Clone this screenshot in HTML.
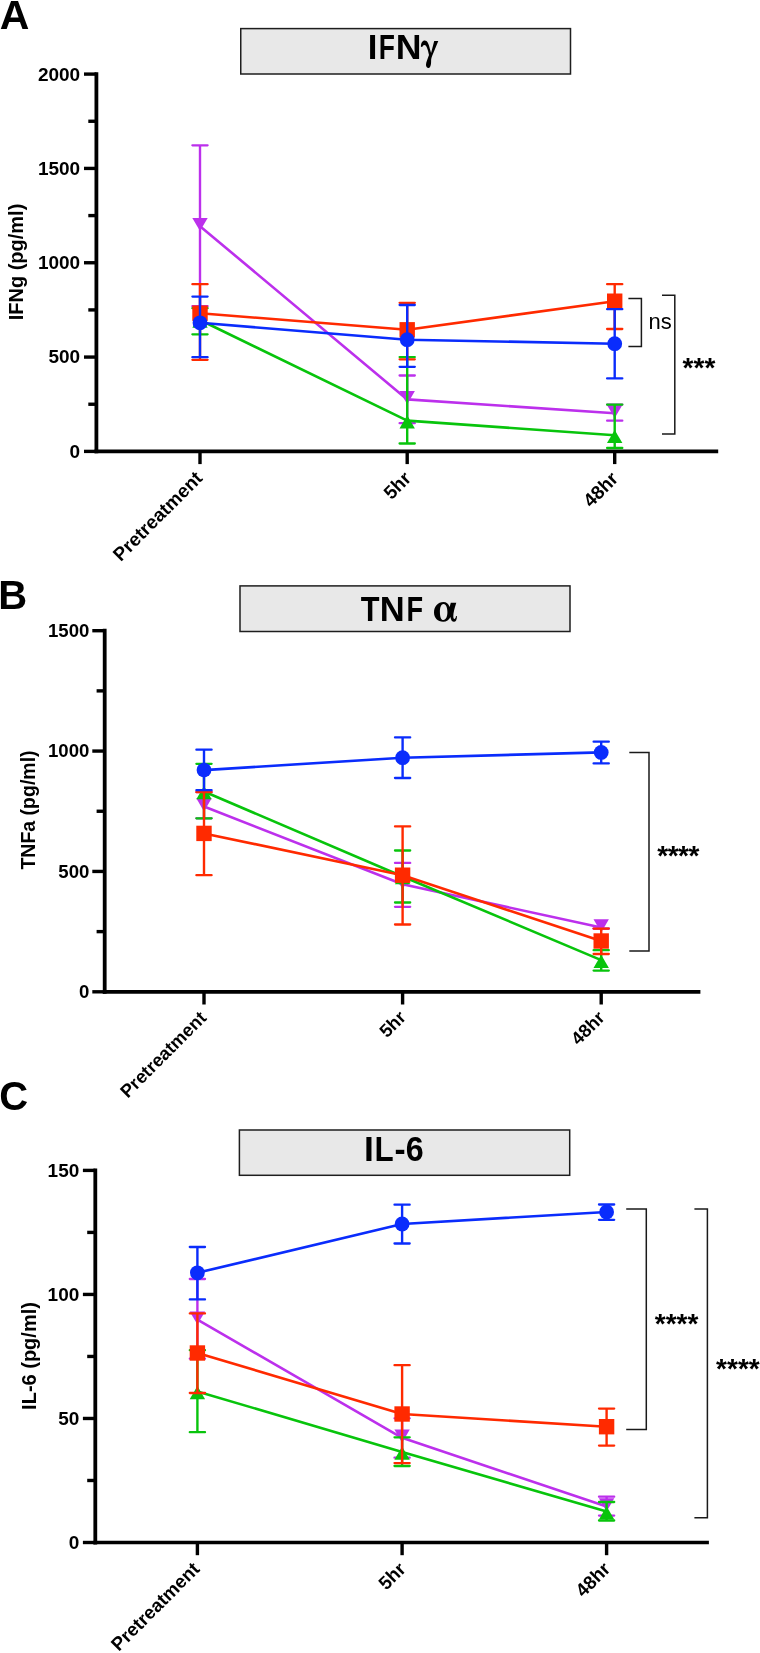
<!DOCTYPE html>
<html><head><meta charset="utf-8"><title>Cytokines</title>
<style>
html,body{margin:0;padding:0;background:#fff;}
body{width:760px;height:1653px;overflow:hidden;}
svg{display:block;will-change:transform;}
text{font-family:"Liberation Sans",sans-serif;fill:#000;}
.pl{font-size:40px;font-weight:bold;}
.tl{font-size:19px;font-weight:bold;}
.xl{font-size:18px;font-weight:bold;}
.yl{font-size:20px;font-weight:bold;}
.tt{font-size:33px;font-weight:bold;}
.st{font-size:28px;font-weight:bold;}
.ns{font-size:22px;}
</style></head><body>
<svg width="760" height="1653" viewBox="0 0 760 1653">
<text x="-0.3" y="28.8" class="pl" style="font-size:41px">A</text>
<rect x="240.75" y="28.6" width="329.75" height="45.4" fill="#e8e8e8" stroke="#1e1e1e" stroke-width="1.5"/>
<text transform="translate(367.78,59.3) scale(1.006,1)" style="font-size:34.5px;font-weight:bold">I</text>
<text transform="translate(378.63,59.3) scale(0.766,1)" style="font-size:34.5px;font-weight:bold">F</text>
<text transform="translate(395.71,59.3) scale(1.035,1)" style="font-size:34.5px;font-weight:bold">N</text>
<path transform="translate(420.9,40.5)" d="M0,6.2C0,2.5 1.6,0 3.8,0C6.5,0 7.8,3 9,8.5L10.2,12.5L13.3,0.6L17.4,0.6L11.2,15.5C10.6,17 10.2,18.5 10.2,21C10.2,25 9.2,27.5 7.6,27.5C6,27.5 5.1,26 5.1,24.5C5.1,21.5 6.8,18.5 8.1,14.5C7,9 5.6,4.5 3.6,4.5C2.6,4.5 1.6,5.3 1.4,6.6Z" fill="#000"/>
<line x1="96.4" y1="72.19999999999999" x2="96.4" y2="453.29999999999995" stroke="#000" stroke-width="3.8"/>
<line x1="94.5" y1="451.4" x2="718.2" y2="451.4" stroke="#000" stroke-width="3.7"/>
<line x1="84.0" y1="74.10000000000002" x2="96.4" y2="74.10000000000002" stroke="#000" stroke-width="3.4"/>
<line x1="84.0" y1="168.425" x2="96.4" y2="168.425" stroke="#000" stroke-width="3.4"/>
<line x1="84.0" y1="262.75" x2="96.4" y2="262.75" stroke="#000" stroke-width="3.4"/>
<line x1="84.0" y1="357.075" x2="96.4" y2="357.075" stroke="#000" stroke-width="3.4"/>
<line x1="84.0" y1="451.4" x2="96.4" y2="451.4" stroke="#000" stroke-width="3.4"/>
<line x1="88.30000000000001" y1="121.26249999999999" x2="96.4" y2="121.26249999999999" stroke="#000" stroke-width="3.4"/>
<line x1="88.30000000000001" y1="215.5875" x2="96.4" y2="215.5875" stroke="#000" stroke-width="3.4"/>
<line x1="88.30000000000001" y1="309.9125" x2="96.4" y2="309.9125" stroke="#000" stroke-width="3.4"/>
<line x1="88.30000000000001" y1="404.23749999999995" x2="96.4" y2="404.23749999999995" stroke="#000" stroke-width="3.4"/>
<text x="80.2" y="80.50" text-anchor="end" class="tl">2000</text>
<text x="80.2" y="174.83" text-anchor="end" class="tl">1500</text>
<text x="80.2" y="269.15" text-anchor="end" class="tl">1000</text>
<text x="80.2" y="363.47" text-anchor="end" class="tl">500</text>
<text x="80.2" y="457.80" text-anchor="end" class="tl">0</text>
<line x1="200" y1="451.4" x2="200" y2="464.09999999999997" stroke="#000" stroke-width="3.4"/>
<line x1="407.2" y1="451.4" x2="407.2" y2="464.09999999999997" stroke="#000" stroke-width="3.4"/>
<line x1="614.7" y1="451.4" x2="614.7" y2="464.09999999999997" stroke="#000" stroke-width="3.4"/>
<text transform="translate(203.60,479.30) rotate(-45)" text-anchor="end" class="xl" style="font-size:19px">Pretreatment</text>
<text transform="translate(412.30,479.50) rotate(-45)" text-anchor="end" class="xl" style="font-size:19px">5hr</text>
<text transform="translate(619.35,479.85) rotate(-45)" text-anchor="end" class="xl" style="font-size:19px">48hr</text>
<text transform="translate(23.3,262) rotate(-90)" text-anchor="middle" class="yl">IFNg (pg/ml)</text>
<polyline points="200.00,226.20 407.20,399.40 614.70,413.20" fill="none" stroke="#bc30ec" stroke-width="2.6" stroke-linejoin="round"/>
<line x1="200.00" y1="145.30" x2="200.00" y2="306.20" stroke="#bc30ec" stroke-width="2.4"/>
<line x1="192.40" y1="145.30" x2="207.60" y2="145.30" stroke="#bc30ec" stroke-width="2.3" stroke-linecap="round"/>
<line x1="192.40" y1="306.20" x2="207.60" y2="306.20" stroke="#bc30ec" stroke-width="2.3" stroke-linecap="round"/>
<line x1="407.20" y1="375.50" x2="407.20" y2="423.20" stroke="#bc30ec" stroke-width="2.4"/>
<line x1="399.60" y1="375.50" x2="414.80" y2="375.50" stroke="#bc30ec" stroke-width="2.3" stroke-linecap="round"/>
<line x1="399.60" y1="423.20" x2="414.80" y2="423.20" stroke="#bc30ec" stroke-width="2.3" stroke-linecap="round"/>
<line x1="614.70" y1="404.60" x2="614.70" y2="420.70" stroke="#bc30ec" stroke-width="2.4"/>
<line x1="607.10" y1="404.60" x2="622.30" y2="404.60" stroke="#bc30ec" stroke-width="2.3" stroke-linecap="round"/>
<line x1="607.10" y1="420.70" x2="622.30" y2="420.70" stroke="#bc30ec" stroke-width="2.3" stroke-linecap="round"/>
<path d="M192.30,217.90L207.70,217.90L200.00,231.10Z" fill="#bc30ec"/>
<path d="M399.50,391.10L414.90,391.10L407.20,404.30Z" fill="#bc30ec"/>
<path d="M607.00,404.90L622.40,404.90L614.70,418.10Z" fill="#bc30ec"/>
<polyline points="200.00,320.00 407.20,420.65 614.70,435.30" fill="none" stroke="#08c40c" stroke-width="2.6" stroke-linejoin="round"/>
<line x1="200.00" y1="308.20" x2="200.00" y2="334.30" stroke="#08c40c" stroke-width="2.4"/>
<line x1="192.40" y1="308.20" x2="207.60" y2="308.20" stroke="#08c40c" stroke-width="2.3" stroke-linecap="round"/>
<line x1="192.40" y1="334.30" x2="207.60" y2="334.30" stroke="#08c40c" stroke-width="2.3" stroke-linecap="round"/>
<line x1="407.20" y1="357.10" x2="407.20" y2="443.50" stroke="#08c40c" stroke-width="2.4"/>
<line x1="399.60" y1="357.10" x2="414.80" y2="357.10" stroke="#08c40c" stroke-width="2.3" stroke-linecap="round"/>
<line x1="399.60" y1="443.50" x2="414.80" y2="443.50" stroke="#08c40c" stroke-width="2.3" stroke-linecap="round"/>
<line x1="614.70" y1="404.60" x2="614.70" y2="448.00" stroke="#08c40c" stroke-width="2.4"/>
<line x1="607.10" y1="404.60" x2="622.30" y2="404.60" stroke="#08c40c" stroke-width="2.3" stroke-linecap="round"/>
<line x1="607.10" y1="448.00" x2="622.30" y2="448.00" stroke="#08c40c" stroke-width="2.3" stroke-linecap="round"/>
<path d="M200.00,314.60L207.70,327.80L192.30,327.80Z" fill="#08c40c"/>
<path d="M407.20,415.25L414.90,428.45L399.50,428.45Z" fill="#08c40c"/>
<path d="M614.70,429.90L622.40,443.10L607.00,443.10Z" fill="#08c40c"/>
<polyline points="200.00,313.20 407.20,329.80 614.70,301.20" fill="none" stroke="#ff2a00" stroke-width="2.6" stroke-linejoin="round"/>
<line x1="200.00" y1="284.20" x2="200.00" y2="359.80" stroke="#ff2a00" stroke-width="2.4"/>
<line x1="192.40" y1="284.20" x2="207.60" y2="284.20" stroke="#ff2a00" stroke-width="2.3" stroke-linecap="round"/>
<line x1="192.40" y1="359.80" x2="207.60" y2="359.80" stroke="#ff2a00" stroke-width="2.3" stroke-linecap="round"/>
<line x1="407.20" y1="302.80" x2="407.20" y2="359.30" stroke="#ff2a00" stroke-width="2.4"/>
<line x1="399.60" y1="302.80" x2="414.80" y2="302.80" stroke="#ff2a00" stroke-width="2.3" stroke-linecap="round"/>
<line x1="399.60" y1="359.30" x2="414.80" y2="359.30" stroke="#ff2a00" stroke-width="2.3" stroke-linecap="round"/>
<line x1="614.70" y1="284.20" x2="614.70" y2="329.00" stroke="#ff2a00" stroke-width="2.4"/>
<line x1="607.10" y1="284.20" x2="622.30" y2="284.20" stroke="#ff2a00" stroke-width="2.3" stroke-linecap="round"/>
<line x1="607.10" y1="329.00" x2="622.30" y2="329.00" stroke="#ff2a00" stroke-width="2.3" stroke-linecap="round"/>
<rect x="192.30" y="305.50" width="15.4" height="15.4" fill="#ff2a00"/>
<rect x="399.50" y="322.10" width="15.4" height="15.4" fill="#ff2a00"/>
<rect x="607.00" y="293.50" width="15.4" height="15.4" fill="#ff2a00"/>
<polyline points="200.00,322.80 407.20,339.70 614.70,343.70" fill="none" stroke="#0a2cfc" stroke-width="2.6" stroke-linejoin="round"/>
<line x1="200.00" y1="296.60" x2="200.00" y2="357.20" stroke="#0a2cfc" stroke-width="2.4"/>
<line x1="192.40" y1="296.60" x2="207.60" y2="296.60" stroke="#0a2cfc" stroke-width="2.3" stroke-linecap="round"/>
<line x1="192.40" y1="357.20" x2="207.60" y2="357.20" stroke="#0a2cfc" stroke-width="2.3" stroke-linecap="round"/>
<line x1="407.20" y1="305.00" x2="407.20" y2="366.80" stroke="#0a2cfc" stroke-width="2.4"/>
<line x1="399.60" y1="305.00" x2="414.80" y2="305.00" stroke="#0a2cfc" stroke-width="2.3" stroke-linecap="round"/>
<line x1="399.60" y1="366.80" x2="414.80" y2="366.80" stroke="#0a2cfc" stroke-width="2.3" stroke-linecap="round"/>
<line x1="614.70" y1="309.20" x2="614.70" y2="378.40" stroke="#0a2cfc" stroke-width="2.4"/>
<line x1="607.10" y1="309.20" x2="622.30" y2="309.20" stroke="#0a2cfc" stroke-width="2.3" stroke-linecap="round"/>
<line x1="607.10" y1="378.40" x2="622.30" y2="378.40" stroke="#0a2cfc" stroke-width="2.3" stroke-linecap="round"/>
<circle cx="200.00" cy="322.80" r="7.4" fill="#0a2cfc"/>
<circle cx="407.20" cy="339.70" r="7.4" fill="#0a2cfc"/>
<circle cx="614.70" cy="343.70" r="7.4" fill="#0a2cfc"/>
<path d="M628.4,298.6H641.4V346.4H628.4" fill="none" stroke="#1a1a1a" stroke-width="1.5"/>
<text x="648.6" y="328.8" class="ns">ns</text>
<path d="M662,295.2H674.8V434.1H662" fill="none" stroke="#1a1a1a" stroke-width="1.5"/>
<text x="682.6" y="377.1" class="st">***</text>
<text x="-1.8" y="608.9" class="pl">B</text>
<rect x="240" y="585.9" width="330" height="45.6" fill="#e8e8e8" stroke="#1e1e1e" stroke-width="1.5"/>
<text transform="translate(360.75,620.5) scale(0.891,1)" style="font-size:34.5px;font-weight:bold">T</text>
<text transform="translate(379.79,620.5) scale(1.001,1)" style="font-size:34.5px;font-weight:bold">N</text>
<text transform="translate(406.48,620.5) scale(0.788,1)" style="font-size:34.5px;font-weight:bold">F</text>
<path transform="translate(434,602.1)" d="M9.5,0C4,0 0,4.5 0,10.5C0,16 3.8,19.7 9.2,19.7C12.5,19.7 15,17.5 16.4,14.8C16.9,18 18.2,19.7 20,19.7C21.8,19.7 22.8,18 23,14.2L22,14C21.8,15.8 21.3,16.8 20.6,16.8C19.6,16.8 19.3,15.5 19.3,13.8C19.3,11 20.5,6 22.3,0.6L16.8,0.6L15.6,4.8C14.5,1.8 12.3,0 9.5,0Z M9.6,1.8C12.2,1.8 13.4,5.5 13.4,10C13.4,14.5 12,17.9 9.4,17.9C6.9,17.9 5.9,14.2 5.9,9.8C5.9,5 7.2,1.8 9.6,1.8Z" fill="#000" fill-rule="evenodd"/>
<line x1="104.7" y1="628.8000000000001" x2="104.7" y2="993.6999999999999" stroke="#000" stroke-width="3.8"/>
<line x1="102.8" y1="991.8" x2="700.4" y2="991.8" stroke="#000" stroke-width="3.7"/>
<line x1="92.3" y1="630.7" x2="104.7" y2="630.7" stroke="#000" stroke-width="3.4"/>
<line x1="92.3" y1="751.0666666666667" x2="104.7" y2="751.0666666666667" stroke="#000" stroke-width="3.4"/>
<line x1="92.3" y1="871.4333333333333" x2="104.7" y2="871.4333333333333" stroke="#000" stroke-width="3.4"/>
<line x1="92.3" y1="991.8" x2="104.7" y2="991.8" stroke="#000" stroke-width="3.4"/>
<line x1="96.60000000000001" y1="690.8833333333334" x2="104.7" y2="690.8833333333334" stroke="#000" stroke-width="3.4"/>
<line x1="96.60000000000001" y1="811.25" x2="104.7" y2="811.25" stroke="#000" stroke-width="3.4"/>
<line x1="96.60000000000001" y1="931.6166666666667" x2="104.7" y2="931.6166666666667" stroke="#000" stroke-width="3.4"/>
<text x="89.4" y="637.10" text-anchor="end" class="tl" style="font-size:18.6px">1500</text>
<text x="89.4" y="757.47" text-anchor="end" class="tl" style="font-size:18.6px">1000</text>
<text x="89.4" y="877.83" text-anchor="end" class="tl" style="font-size:18.6px">500</text>
<text x="89.4" y="998.20" text-anchor="end" class="tl" style="font-size:18.6px">0</text>
<line x1="204" y1="991.8" x2="204" y2="1004.5" stroke="#000" stroke-width="3.4"/>
<line x1="402.6" y1="991.8" x2="402.6" y2="1004.5" stroke="#000" stroke-width="3.4"/>
<line x1="601.2" y1="991.8" x2="601.2" y2="1004.5" stroke="#000" stroke-width="3.4"/>
<text transform="translate(207.50,1019.00) rotate(-45)" text-anchor="end" class="xl" style="font-size:18.3px">Pretreatment</text>
<text transform="translate(407.00,1018.50) rotate(-45)" text-anchor="end" class="xl" style="font-size:18.3px">5hr</text>
<text transform="translate(605.85,1018.70) rotate(-45)" text-anchor="end" class="xl" style="font-size:18.3px">48hr</text>
<text transform="translate(35,810) rotate(-90)" text-anchor="middle" class="yl" style="font-size:19.5px">TNFa (pg/ml)</text>
<polyline points="204.00,806.50 402.60,884.30 601.20,927.50" fill="none" stroke="#bc30ec" stroke-width="2.6" stroke-linejoin="round"/>
<line x1="204.00" y1="792.00" x2="204.00" y2="818.30" stroke="#bc30ec" stroke-width="2.4"/>
<line x1="196.40" y1="792.00" x2="211.60" y2="792.00" stroke="#bc30ec" stroke-width="2.3" stroke-linecap="round"/>
<line x1="196.40" y1="818.30" x2="211.60" y2="818.30" stroke="#bc30ec" stroke-width="2.3" stroke-linecap="round"/>
<line x1="402.60" y1="862.90" x2="402.60" y2="906.80" stroke="#bc30ec" stroke-width="2.4"/>
<line x1="395.00" y1="862.90" x2="410.20" y2="862.90" stroke="#bc30ec" stroke-width="2.3" stroke-linecap="round"/>
<line x1="395.00" y1="906.80" x2="410.20" y2="906.80" stroke="#bc30ec" stroke-width="2.3" stroke-linecap="round"/>
<line x1="601.20" y1="928.60" x2="601.20" y2="928.60" stroke="#bc30ec" stroke-width="2.4"/>
<line x1="593.60" y1="928.60" x2="608.80" y2="928.60" stroke="#bc30ec" stroke-width="2.3" stroke-linecap="round"/>
<line x1="593.60" y1="928.60" x2="608.80" y2="928.60" stroke="#bc30ec" stroke-width="2.3" stroke-linecap="round"/>
<path d="M196.30,798.20L211.70,798.20L204.00,811.40Z" fill="#bc30ec"/>
<path d="M394.90,876.00L410.30,876.00L402.60,889.20Z" fill="#bc30ec"/>
<path d="M593.50,919.20L608.90,919.20L601.20,932.40Z" fill="#bc30ec"/>
<polyline points="204.00,791.50 402.60,876.50 601.20,960.10" fill="none" stroke="#08c40c" stroke-width="2.6" stroke-linejoin="round"/>
<line x1="204.00" y1="763.80" x2="204.00" y2="818.30" stroke="#08c40c" stroke-width="2.4"/>
<line x1="196.40" y1="763.80" x2="211.60" y2="763.80" stroke="#08c40c" stroke-width="2.3" stroke-linecap="round"/>
<line x1="196.40" y1="818.30" x2="211.60" y2="818.30" stroke="#08c40c" stroke-width="2.3" stroke-linecap="round"/>
<line x1="402.60" y1="850.50" x2="402.60" y2="902.50" stroke="#08c40c" stroke-width="2.4"/>
<line x1="395.00" y1="850.50" x2="410.20" y2="850.50" stroke="#08c40c" stroke-width="2.3" stroke-linecap="round"/>
<line x1="395.00" y1="902.50" x2="410.20" y2="902.50" stroke="#08c40c" stroke-width="2.3" stroke-linecap="round"/>
<line x1="601.20" y1="950.20" x2="601.20" y2="970.60" stroke="#08c40c" stroke-width="2.4"/>
<line x1="593.60" y1="950.20" x2="608.80" y2="950.20" stroke="#08c40c" stroke-width="2.3" stroke-linecap="round"/>
<line x1="593.60" y1="970.60" x2="608.80" y2="970.60" stroke="#08c40c" stroke-width="2.3" stroke-linecap="round"/>
<path d="M204.00,786.10L211.70,799.30L196.30,799.30Z" fill="#08c40c"/>
<path d="M402.60,871.10L410.30,884.30L394.90,884.30Z" fill="#08c40c"/>
<path d="M601.20,954.70L608.90,967.90L593.50,967.90Z" fill="#08c40c"/>
<polyline points="204.00,833.40 402.60,875.20 601.20,941.00" fill="none" stroke="#ff2a00" stroke-width="2.6" stroke-linejoin="round"/>
<line x1="204.00" y1="792.20" x2="204.00" y2="875.20" stroke="#ff2a00" stroke-width="2.4"/>
<line x1="196.40" y1="792.20" x2="211.60" y2="792.20" stroke="#ff2a00" stroke-width="2.3" stroke-linecap="round"/>
<line x1="196.40" y1="875.20" x2="211.60" y2="875.20" stroke="#ff2a00" stroke-width="2.3" stroke-linecap="round"/>
<line x1="402.60" y1="826.40" x2="402.60" y2="924.50" stroke="#ff2a00" stroke-width="2.4"/>
<line x1="395.00" y1="826.40" x2="410.20" y2="826.40" stroke="#ff2a00" stroke-width="2.3" stroke-linecap="round"/>
<line x1="395.00" y1="924.50" x2="410.20" y2="924.50" stroke="#ff2a00" stroke-width="2.3" stroke-linecap="round"/>
<line x1="601.20" y1="928.60" x2="601.20" y2="954.00" stroke="#ff2a00" stroke-width="2.4"/>
<line x1="593.60" y1="928.60" x2="608.80" y2="928.60" stroke="#ff2a00" stroke-width="2.3" stroke-linecap="round"/>
<line x1="593.60" y1="954.00" x2="608.80" y2="954.00" stroke="#ff2a00" stroke-width="2.3" stroke-linecap="round"/>
<rect x="196.30" y="825.70" width="15.4" height="15.4" fill="#ff2a00"/>
<rect x="394.90" y="867.50" width="15.4" height="15.4" fill="#ff2a00"/>
<rect x="593.50" y="933.30" width="15.4" height="15.4" fill="#ff2a00"/>
<polyline points="204.00,770.10 402.60,757.70 601.20,752.40" fill="none" stroke="#0a2cfc" stroke-width="2.6" stroke-linejoin="round"/>
<line x1="204.00" y1="749.70" x2="204.00" y2="790.20" stroke="#0a2cfc" stroke-width="2.4"/>
<line x1="196.40" y1="749.70" x2="211.60" y2="749.70" stroke="#0a2cfc" stroke-width="2.3" stroke-linecap="round"/>
<line x1="196.40" y1="790.20" x2="211.60" y2="790.20" stroke="#0a2cfc" stroke-width="2.3" stroke-linecap="round"/>
<line x1="402.60" y1="737.40" x2="402.60" y2="778.00" stroke="#0a2cfc" stroke-width="2.4"/>
<line x1="395.00" y1="737.40" x2="410.20" y2="737.40" stroke="#0a2cfc" stroke-width="2.3" stroke-linecap="round"/>
<line x1="395.00" y1="778.00" x2="410.20" y2="778.00" stroke="#0a2cfc" stroke-width="2.3" stroke-linecap="round"/>
<line x1="601.20" y1="741.70" x2="601.20" y2="763.40" stroke="#0a2cfc" stroke-width="2.4"/>
<line x1="593.60" y1="741.70" x2="608.80" y2="741.70" stroke="#0a2cfc" stroke-width="2.3" stroke-linecap="round"/>
<line x1="593.60" y1="763.40" x2="608.80" y2="763.40" stroke="#0a2cfc" stroke-width="2.3" stroke-linecap="round"/>
<circle cx="204.00" cy="770.10" r="7.4" fill="#0a2cfc"/>
<circle cx="402.60" cy="757.70" r="7.4" fill="#0a2cfc"/>
<circle cx="601.20" cy="752.40" r="7.4" fill="#0a2cfc"/>
<path d="M629.3,752.4H649V951H629.3" fill="none" stroke="#1a1a1a" stroke-width="1.5"/>
<text x="657.3" y="864.6" class="st" style="letter-spacing:-0.5px">****</text>
<text x="-0.8" y="1110.3" class="pl">C</text>
<rect x="239.4" y="1130" width="330.3" height="45.3" fill="#e8e8e8" stroke="#1e1e1e" stroke-width="1.5"/>
<text transform="translate(363.93,1161) scale(1.026,1)" style="font-size:34.5px;font-weight:bold">I</text>
<text transform="translate(374.40,1161) scale(0.909,1)" style="font-size:34.5px;font-weight:bold">L</text>
<text transform="translate(394.49,1161) scale(0.970,1)" style="font-size:34.5px;font-weight:bold">-</text>
<text transform="translate(405.82,1161) scale(0.935,1)" style="font-size:34.5px;font-weight:bold">6</text>
<line x1="95.3" y1="1168.5" x2="95.3" y2="1544.4" stroke="#000" stroke-width="3.8"/>
<line x1="93.39999999999999" y1="1542.5" x2="708.9" y2="1542.5" stroke="#000" stroke-width="3.7"/>
<line x1="82.89999999999999" y1="1170.4" x2="95.3" y2="1170.4" stroke="#000" stroke-width="3.4"/>
<line x1="82.89999999999999" y1="1294.4333333333334" x2="95.3" y2="1294.4333333333334" stroke="#000" stroke-width="3.4"/>
<line x1="82.89999999999999" y1="1418.4666666666667" x2="95.3" y2="1418.4666666666667" stroke="#000" stroke-width="3.4"/>
<line x1="82.89999999999999" y1="1542.5" x2="95.3" y2="1542.5" stroke="#000" stroke-width="3.4"/>
<line x1="87.2" y1="1232.4166666666667" x2="95.3" y2="1232.4166666666667" stroke="#000" stroke-width="3.4"/>
<line x1="87.2" y1="1356.45" x2="95.3" y2="1356.45" stroke="#000" stroke-width="3.4"/>
<line x1="87.2" y1="1480.4833333333333" x2="95.3" y2="1480.4833333333333" stroke="#000" stroke-width="3.4"/>
<text x="79.3" y="1176.80" text-anchor="end" class="tl">150</text>
<text x="79.3" y="1300.83" text-anchor="end" class="tl">100</text>
<text x="79.3" y="1424.87" text-anchor="end" class="tl">50</text>
<text x="79.3" y="1548.90" text-anchor="end" class="tl">0</text>
<line x1="197.4" y1="1542.5" x2="197.4" y2="1555.2" stroke="#000" stroke-width="3.4"/>
<line x1="402.1" y1="1542.5" x2="402.1" y2="1555.2" stroke="#000" stroke-width="3.4"/>
<line x1="606.6" y1="1542.5" x2="606.6" y2="1555.2" stroke="#000" stroke-width="3.4"/>
<text transform="translate(200.75,1570.15) rotate(-45)" text-anchor="end" class="xl" style="font-size:18.8px">Pretreatment</text>
<text transform="translate(406.85,1570.25) rotate(-45)" text-anchor="end" class="xl" style="font-size:18.8px">5hr</text>
<text transform="translate(611.35,1570.05) rotate(-45)" text-anchor="end" class="xl" style="font-size:18.8px">48hr</text>
<text transform="translate(35.8,1356) rotate(-90)" text-anchor="middle" class="yl">IL-6 (pg/ml)</text>
<polyline points="197.40,1319.70 402.10,1437.80 606.60,1506.50" fill="none" stroke="#bc30ec" stroke-width="2.6" stroke-linejoin="round"/>
<line x1="197.40" y1="1279.00" x2="197.40" y2="1358.70" stroke="#bc30ec" stroke-width="2.4"/>
<line x1="189.80" y1="1279.00" x2="205.00" y2="1279.00" stroke="#bc30ec" stroke-width="2.3" stroke-linecap="round"/>
<line x1="189.80" y1="1358.70" x2="205.00" y2="1358.70" stroke="#bc30ec" stroke-width="2.3" stroke-linecap="round"/>
<line x1="402.10" y1="1418.30" x2="402.10" y2="1457.70" stroke="#bc30ec" stroke-width="2.4"/>
<line x1="394.50" y1="1418.30" x2="409.70" y2="1418.30" stroke="#bc30ec" stroke-width="2.3" stroke-linecap="round"/>
<line x1="394.50" y1="1457.70" x2="409.70" y2="1457.70" stroke="#bc30ec" stroke-width="2.3" stroke-linecap="round"/>
<line x1="606.60" y1="1496.70" x2="606.60" y2="1515.60" stroke="#bc30ec" stroke-width="2.4"/>
<line x1="599.00" y1="1496.70" x2="614.20" y2="1496.70" stroke="#bc30ec" stroke-width="2.3" stroke-linecap="round"/>
<line x1="599.00" y1="1515.60" x2="614.20" y2="1515.60" stroke="#bc30ec" stroke-width="2.3" stroke-linecap="round"/>
<path d="M189.70,1311.40L205.10,1311.40L197.40,1324.60Z" fill="#bc30ec"/>
<path d="M394.40,1429.50L409.80,1429.50L402.10,1442.70Z" fill="#bc30ec"/>
<path d="M598.90,1498.20L614.30,1498.20L606.60,1511.40Z" fill="#bc30ec"/>
<polyline points="197.40,1391.40 402.10,1452.00 606.60,1511.60" fill="none" stroke="#08c40c" stroke-width="2.6" stroke-linejoin="round"/>
<line x1="197.40" y1="1350.20" x2="197.40" y2="1432.20" stroke="#08c40c" stroke-width="2.4"/>
<line x1="189.80" y1="1350.20" x2="205.00" y2="1350.20" stroke="#08c40c" stroke-width="2.3" stroke-linecap="round"/>
<line x1="189.80" y1="1432.20" x2="205.00" y2="1432.20" stroke="#08c40c" stroke-width="2.3" stroke-linecap="round"/>
<line x1="402.10" y1="1437.30" x2="402.10" y2="1466.00" stroke="#08c40c" stroke-width="2.4"/>
<line x1="394.50" y1="1437.30" x2="409.70" y2="1437.30" stroke="#08c40c" stroke-width="2.3" stroke-linecap="round"/>
<line x1="394.50" y1="1466.00" x2="409.70" y2="1466.00" stroke="#08c40c" stroke-width="2.3" stroke-linecap="round"/>
<line x1="606.60" y1="1502.00" x2="606.60" y2="1520.50" stroke="#08c40c" stroke-width="2.4"/>
<line x1="599.00" y1="1502.00" x2="614.20" y2="1502.00" stroke="#08c40c" stroke-width="2.3" stroke-linecap="round"/>
<line x1="599.00" y1="1520.50" x2="614.20" y2="1520.50" stroke="#08c40c" stroke-width="2.3" stroke-linecap="round"/>
<path d="M197.40,1386.00L205.10,1399.20L189.70,1399.20Z" fill="#08c40c"/>
<path d="M402.10,1446.60L409.80,1459.80L394.40,1459.80Z" fill="#08c40c"/>
<path d="M606.60,1506.20L614.30,1519.40L598.90,1519.40Z" fill="#08c40c"/>
<polyline points="197.40,1353.00 402.10,1414.00 606.60,1426.70" fill="none" stroke="#ff2a00" stroke-width="2.6" stroke-linejoin="round"/>
<line x1="197.40" y1="1313.40" x2="197.40" y2="1393.00" stroke="#ff2a00" stroke-width="2.4"/>
<line x1="189.80" y1="1313.40" x2="205.00" y2="1313.40" stroke="#ff2a00" stroke-width="2.3" stroke-linecap="round"/>
<line x1="189.80" y1="1393.00" x2="205.00" y2="1393.00" stroke="#ff2a00" stroke-width="2.3" stroke-linecap="round"/>
<line x1="402.10" y1="1365.20" x2="402.10" y2="1463.10" stroke="#ff2a00" stroke-width="2.4"/>
<line x1="394.50" y1="1365.20" x2="409.70" y2="1365.20" stroke="#ff2a00" stroke-width="2.3" stroke-linecap="round"/>
<line x1="394.50" y1="1463.10" x2="409.70" y2="1463.10" stroke="#ff2a00" stroke-width="2.3" stroke-linecap="round"/>
<line x1="606.60" y1="1408.60" x2="606.60" y2="1445.60" stroke="#ff2a00" stroke-width="2.4"/>
<line x1="599.00" y1="1408.60" x2="614.20" y2="1408.60" stroke="#ff2a00" stroke-width="2.3" stroke-linecap="round"/>
<line x1="599.00" y1="1445.60" x2="614.20" y2="1445.60" stroke="#ff2a00" stroke-width="2.3" stroke-linecap="round"/>
<rect x="189.70" y="1345.30" width="15.4" height="15.4" fill="#ff2a00"/>
<rect x="394.40" y="1406.30" width="15.4" height="15.4" fill="#ff2a00"/>
<rect x="598.90" y="1419.00" width="15.4" height="15.4" fill="#ff2a00"/>
<polyline points="197.40,1272.80 402.10,1224.00 606.60,1212.00" fill="none" stroke="#0a2cfc" stroke-width="2.6" stroke-linejoin="round"/>
<line x1="197.40" y1="1247.00" x2="197.40" y2="1299.40" stroke="#0a2cfc" stroke-width="2.4"/>
<line x1="189.80" y1="1247.00" x2="205.00" y2="1247.00" stroke="#0a2cfc" stroke-width="2.3" stroke-linecap="round"/>
<line x1="189.80" y1="1299.40" x2="205.00" y2="1299.40" stroke="#0a2cfc" stroke-width="2.3" stroke-linecap="round"/>
<line x1="402.10" y1="1204.70" x2="402.10" y2="1243.50" stroke="#0a2cfc" stroke-width="2.4"/>
<line x1="394.50" y1="1204.70" x2="409.70" y2="1204.70" stroke="#0a2cfc" stroke-width="2.3" stroke-linecap="round"/>
<line x1="394.50" y1="1243.50" x2="409.70" y2="1243.50" stroke="#0a2cfc" stroke-width="2.3" stroke-linecap="round"/>
<line x1="606.60" y1="1204.50" x2="606.60" y2="1219.80" stroke="#0a2cfc" stroke-width="2.4"/>
<line x1="599.00" y1="1204.50" x2="614.20" y2="1204.50" stroke="#0a2cfc" stroke-width="2.3" stroke-linecap="round"/>
<line x1="599.00" y1="1219.80" x2="614.20" y2="1219.80" stroke="#0a2cfc" stroke-width="2.3" stroke-linecap="round"/>
<circle cx="197.40" cy="1272.80" r="7.4" fill="#0a2cfc"/>
<circle cx="402.10" cy="1224.00" r="7.4" fill="#0a2cfc"/>
<circle cx="606.60" cy="1212.00" r="7.4" fill="#0a2cfc"/>
<path d="M626.2,1209H646.3V1429.5H626.2" fill="none" stroke="#1a1a1a" stroke-width="1.5"/>
<text x="654.8" y="1332.9" class="st">****</text>
<path d="M694.4,1209H707.4V1517.8H694.4" fill="none" stroke="#1a1a1a" stroke-width="1.5"/>
<text x="716.1" y="1377.6" class="st">****</text>
</svg>
</body></html>
